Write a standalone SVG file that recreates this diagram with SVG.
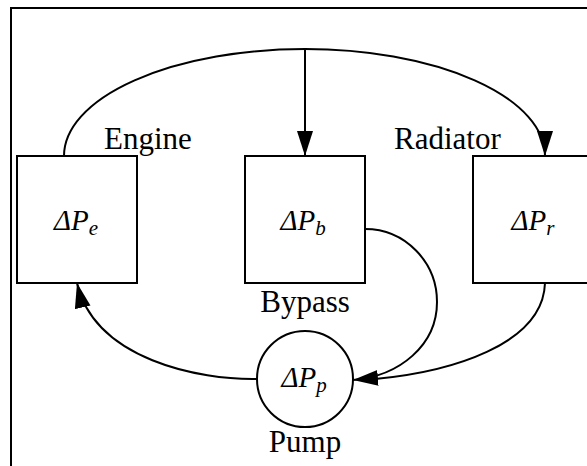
<svg xmlns="http://www.w3.org/2000/svg" width="587" height="466" viewBox="0 0 587 466">
<defs>
<style>
.box{fill:#fff;stroke:#000;stroke-width:2}
.wire{fill:none;stroke:#000;stroke-width:2}
.lbl{font-family:"Liberation Serif","Times New Roman",serif;font-size:31px;fill:#000}
.sym{font-family:"Liberation Serif","Times New Roman",serif;font-style:italic;font-size:29px;fill:#000}
.sub{font-size:21px}
</style>
<marker id="ah" markerUnits="userSpaceOnUse" markerWidth="26" markerHeight="18" refX="25" refY="8" orient="auto">
<path d="M0,0 L25,8 L0,16 Z" fill="#000"/>
</marker>
</defs>
<rect width="587" height="466" fill="#fff"/>
<g id="frame"><path d="M11,466 V8 H587" fill="none" stroke="#000" stroke-width="2"/></g>
<g id="connectors">
<path class="wire" d="M64,156 A241,107 0 0 1 305,49 A240,107 0 0 1 545,156" marker-end="url(#ah)"/>
<path class="wire" d="M305,49 V156" marker-end="url(#ah)"/>
<path class="wire" d="M365,229 C405,229 437,262 437,302 C437,345 400,376 353,380" marker-end="url(#ah)"/>
<path class="wire" d="M545,283 C543,345 450,372 375,379"/>
<path class="wire" d="M257,379 C200,380 95,360 77,283" marker-end="url(#ah)"/>
</g>
<g id="engine">
<rect class="box" x="17" y="156" width="120" height="127"/>
<text class="sym" x="76" y="230" text-anchor="middle">ΔP<tspan class="sub" dy="5">e</tspan></text>
<text class="lbl" x="104" y="149">Engine</text>
</g>
<g id="bypass">
<rect class="box" x="245" y="156" width="120" height="127"/>
<text class="sym" x="303" y="230" text-anchor="middle">ΔP<tspan class="sub" dy="5">b</tspan></text>
<text class="lbl" x="305" y="312" text-anchor="middle">Bypass</text>
</g>
<g id="radiator">
<rect class="box" x="473" y="156" width="120" height="127"/>
<text class="sym" x="533" y="230" text-anchor="middle">ΔP<tspan class="sub" dy="5">r</tspan></text>
<text class="lbl" x="394" y="149">Radiator</text>
</g>
<g id="pump">
<circle cx="305" cy="379" r="48" fill="#fff" stroke="#000" stroke-width="2"/>
<text class="sym" x="304" y="387" text-anchor="middle">ΔP<tspan class="sub" dy="5">p</tspan></text>
<text class="lbl" x="305" y="452" text-anchor="middle">Pump</text>
</g>
</svg>
